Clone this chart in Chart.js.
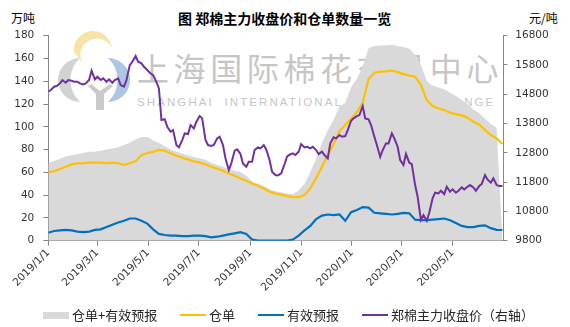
<!DOCTYPE html>
<html>
<head>
<meta charset="utf-8">
<script src="https://cdn.jsdelivr.net/npm/chart.js@4"></script>
<style>
    body { margin: 0; background: #fff; }
    #wrap { position: relative; width: 570px; height: 327px; overflow: hidden; font-family: "Noto Sans CJK SC", sans-serif; }
    #chart { position: absolute; left: 0; top: 0; z-index: 2; }
    .txt { position: absolute; white-space: nowrap; line-height: 1; color: #000; }
    .wm-cn { position: absolute; left: 137px; top: 51px; font-size: 32px; letter-spacing: 4.6px; color: #c6c6c6; line-height: 1; white-space: nowrap; z-index: 1; }
    .wm-en { position: absolute; left: 137px; top: 97px; font-family: "Liberation Sans", sans-serif; font-size: 11.5px; letter-spacing: 2.1px; color: #c6c6c6; line-height: 1; white-space: nowrap; z-index: 1; }
    #logo { position: absolute; left: 0; top: 0; z-index: 1; }
    .legend-item { position: absolute; top: 307px; font-size: 13px; color: #262626; line-height: 15px; white-space: nowrap; z-index: 3; }
    .legend-mark { position: absolute; }
</style>
</head>
<body>
<div id="wrap">
    <svg id="logo" width="570" height="327">
        <path d="M74,52 A19,19 0 1 1 112,48 A15,15 0 1 0 82,62 Z" fill="#f8e2a8"/>
        <path d="M80,58 A22,22 0 0 0 80,102 A30,30 0 0 1 80,58 Z" fill="#d2d2d2"/>
        <path d="M108,58 A22,22 0 0 1 108,102 A30,30 0 0 0 108,58 Z" fill="#adc6e2"/>
        <path d="M88,86 L96,94 L96,110 L104,110 L104,94 L113,86 L110,84 L100,91 L91,84 Z" fill="#cacaca"/>
    </svg>
    <div class="wm-cn">上海国际棉花交易中心</div>
    <div class="wm-en">SHANGHAI&nbsp; INTERNATIONAL COTTON EXCHANGE</div>
    <canvas id="chart" width="570" height="327"></canvas>

    <div class="txt" style="left:178px; top:11px; font-size:14px; font-weight:bold;">图 郑棉主力收盘价和仓单数量一览</div>
    <div class="txt" style="left:11px; top:12px; font-size:12px;">万吨</div>
    <div class="txt" style="left:529px; top:12px; font-size:12px;">元/吨</div>

    <div id="legend"></div>
</div>
<script>
// weekly dates for warehouse receipts series
const dates = [
    '2019/1/1', '2019/1/8', '2019/1/15', '2019/1/22', '2019/1/29', '2019/2/5', '2019/2/12', '2019/2/19', '2019/2/26',
    '2019/3/5', '2019/3/12', '2019/3/19', '2019/3/26', '2019/4/2', '2019/4/9', '2019/4/16', '2019/4/23', '2019/4/30',
    '2019/5/7', '2019/5/14', '2019/5/21', '2019/5/28', '2019/6/4', '2019/6/11', '2019/6/18', '2019/6/25',
    '2019/7/2', '2019/7/9', '2019/7/16', '2019/7/23', '2019/7/30', '2019/8/6', '2019/8/13', '2019/8/20', '2019/8/27',
    '2019/9/3', '2019/9/10', '2019/9/17', '2019/9/24', '2019/10/1', '2019/10/8', '2019/10/15', '2019/10/22', '2019/10/29',
    '2019/11/5', '2019/11/12', '2019/11/19', '2019/11/26', '2019/12/3', '2019/12/10', '2019/12/17', '2019/12/24', '2019/12/31',
    '2020/1/7', '2020/1/14', '2020/1/21', '2020/1/28', '2020/2/4', '2020/2/11', '2020/2/18', '2020/2/25',
    '2020/3/3', '2020/3/10', '2020/3/17', '2020/3/24', '2020/3/31', '2020/4/7', '2020/4/14', '2020/4/21', '2020/4/28',
    '2020/5/5', '2020/5/12', '2020/5/19', '2020/5/26', '2020/6/2', '2020/6/9', '2020/6/16', '2020/6/23', '2020/6/30'
];

// 仓单+有效预报 (万吨)
const totalValues = [
    68, 70, 72, 74, 75, 76, 77, 78, 78, 79, 80, 81, 82, 84, 86, 89, 91, 91, 88, 86, 83,
    80, 78, 76.5, 75, 73.5, 72.5, 71, 68.5, 66.5, 65, 63, 61.5, 60, 57, 52, 50, 48, 45.5, 43.5,
    42.5, 41.5, 41, 44, 50, 60, 72, 86, 97, 106, 118, 121, 135, 142, 153, 169, 171, 171.5, 171.5, 172,
    171, 170, 168.5, 163, 154.5, 140, 136, 134.5, 133, 130, 127, 123.5, 120, 115.5, 112, 107, 102.5, 99, 0
];

// 仓单 (万吨)
const receiptValues = [
    60, 61, 63, 65, 67, 68, 68, 68.5, 68.5, 68.5, 68, 68.5, 68, 66.5, 68, 70, 75, 77, 78, 80, 79,
    76.7, 74.6, 72.9, 71.4, 69.7, 68.5, 67, 65, 63.2, 61.5, 59.1, 57.1, 54.7, 52.7, 50.3, 48.3, 45.9, 43, 41.3,
    40.4, 39.2, 38.3, 38.3, 40, 46, 55, 65, 75.5, 85, 96, 101.5, 107, 113, 121, 142, 147.5, 148.4, 148.7, 149.3,
    148, 146.3, 144.9, 144, 136.7, 123.5, 118.2, 116.1, 114.7, 112.4, 111.2, 110, 108, 104.5, 102.1, 97.2, 92.8, 89.8, 84.9
];

// 有效预报 (万吨)
const forecastValues = [
    7, 8.5, 9, 9.5, 9, 8, 7.5, 8, 9.5, 10, 12, 14, 16, 17.5, 19.5, 19.5, 17.5, 15, 10, 6, 5,
    4.5, 4.5, 4, 4, 4.5, 4.5, 4, 3, 3.5, 4.5, 5.5, 6.5, 7.5, 6, 1, 0, 0, 0, 0,
    0, 0, 1, 4.5, 9, 13, 19, 22, 23, 22.5, 23, 17.5, 25, 27, 29.5, 29, 24.5, 24, 23.5, 23,
    23.5, 24.5, 24, 18.5, 18, 18, 18.5, 19, 19.5, 18, 15.5, 13, 12, 12, 13, 13.5, 11, 9.5, 9.4
];

// 郑棉主力收盘价 (元/吨), twice a week
const priceDates = [
    '2019/1/1', '2019/1/4', '2019/1/8', '2019/1/11', '2019/1/15', '2019/1/18', '2019/1/22', '2019/1/25', '2019/1/29', '2019/2/1',
    '2019/2/5', '2019/2/8', '2019/2/12', '2019/2/15', '2019/2/19', '2019/2/22', '2019/2/26', '2019/3/1', '2019/3/5', '2019/3/8',
    '2019/3/12', '2019/3/15', '2019/3/19', '2019/3/22', '2019/3/26', '2019/3/29', '2019/4/2', '2019/4/5', '2019/4/9', '2019/4/12',
    '2019/4/16', '2019/4/19', '2019/4/23', '2019/4/26', '2019/4/30', '2019/5/3', '2019/5/7', '2019/5/10', '2019/5/14', '2019/5/17',
    '2019/5/21', '2019/5/24', '2019/5/28', '2019/5/31', '2019/6/4', '2019/6/7', '2019/6/11', '2019/6/14', '2019/6/18', '2019/6/21',
    '2019/6/25', '2019/6/28', '2019/7/2', '2019/7/5', '2019/7/9', '2019/7/12', '2019/7/16', '2019/7/19', '2019/7/23', '2019/7/26',
    '2019/7/30', '2019/8/2', '2019/8/6', '2019/8/9', '2019/8/13', '2019/8/16', '2019/8/20', '2019/8/23', '2019/8/27', '2019/8/30',
    '2019/9/3', '2019/9/6', '2019/9/10', '2019/9/13', '2019/9/17', '2019/9/20', '2019/9/24', '2019/9/27', '2019/10/1', '2019/10/4',
    '2019/10/8', '2019/10/11', '2019/10/15', '2019/10/18', '2019/10/22', '2019/10/25', '2019/10/29', '2019/11/1', '2019/11/5', '2019/11/8',
    '2019/11/12', '2019/11/15', '2019/11/19', '2019/11/22', '2019/11/26', '2019/11/29', '2019/12/3', '2019/12/6', '2019/12/10', '2019/12/13',
    '2019/12/17', '2019/12/20', '2019/12/24', '2019/12/27', '2019/12/31', '2020/1/3', '2020/1/7', '2020/1/10', '2020/1/14', '2020/1/17',
    '2020/1/21', '2020/1/24', '2020/1/28', '2020/1/31', '2020/2/4', '2020/2/7', '2020/2/11', '2020/2/14', '2020/2/18', '2020/2/21',
    '2020/2/25', '2020/2/28', '2020/3/3', '2020/3/6', '2020/3/10', '2020/3/13', '2020/3/17', '2020/3/20', '2020/3/24', '2020/3/27',
    '2020/3/31', '2020/4/3', '2020/4/7', '2020/4/10', '2020/4/14', '2020/4/17', '2020/4/21', '2020/4/24', '2020/4/28', '2020/5/1',
    '2020/5/5', '2020/5/8', '2020/5/12', '2020/5/15', '2020/5/19', '2020/5/22', '2020/5/26', '2020/5/29', '2020/6/2', '2020/6/5',
    '2020/6/9', '2020/6/12', '2020/6/16', '2020/6/19', '2020/6/23', '2020/6/26', '2020/6/30'
];
const priceValues = [
    14887, 14944, 15058, 15080, 15171, 15285, 15194, 15285, 15262, 15228,
    15228, 15171, 15137, 15171, 15285, 15604, 15308, 15399, 15285, 15342,
    15228, 15308, 15194, 15285, 15342, 15114, 15058, 15285, 15797, 15911,
    16105, 15911, 15854, 15740, 15627, 15535, 15456, 15285, 15000, 13920,
    13950, 13692, 13521, 13578, 13066, 12986, 13237, 13464, 13442, 13749,
    13635, 13863, 14056, 13977, 13237, 13066, 13032, 13066, 13294, 13350,
    13066, 12611, 12213, 12440, 12873, 12918, 12759, 12440, 12326, 12497,
    12497, 12895, 12986, 12952, 13066, 12918, 12554, 12156, 12042, 12030,
    12099, 12326, 12668, 12736, 12782, 12725, 12839, 13100, 12986, 13009,
    12952, 13009, 12895, 12759, 12839, 12725, 12611, 13123, 13328, 13294,
    13408, 13350, 13373, 13578, 13897, 13977, 14056, 14090, 14398, 13977,
    13943, 13749, 13350, 13066, 12668, 12895, 13123, 13123, 13464, 13294,
    13009, 12554, 12383, 12759, 12463, 12417, 11700, 11302, 10506, 10676,
    10483, 10756, 11245, 11439, 11416, 11507, 11393, 11644, 11473, 11553,
    11439, 11507, 11621, 11553, 11644, 11700, 11621, 11507, 11666, 11735,
    12042, 11894, 11780, 11928, 11700, 11666, 11666
];

const tickDates = ['2019/1/1', '2019/3/1', '2019/5/1', '2019/7/1', '2019/9/1', '2019/11/1', '2020/1/1', '2020/3/1', '2020/5/1'];
const axisEnd = '2020/7/1';

const seriesNames = ['仓单+有效预报', '仓单', '有效预报', '郑棉主力收盘价（右轴）'];
const seriesColors = ['#d9d9d9', '#ffc000', '#0070c0', '#7030a0'];

function dayNum(s) {
    const [y, m, d] = s.split('/').map(Number);
    return (Date.UTC(y, m - 1, d) - Date.UTC(2019, 0, 1)) / 86400000;
}

function toPoints(ds, vs) {
    return ds.map((d, i) => ({ x: dayNum(d), y: vs[i] }));
}

const tickFont = { family: 'DejaVu Sans', size: 10.5 };
const axisGray = '#868686';

new Chart(document.getElementById('chart'), {
    type: 'line',
    data: {
        datasets: [
            {
                label: seriesNames[0],
                data: toPoints(dates, totalValues),
                yAxisID: 'y',
                fill: 'origin',
                backgroundColor: seriesColors[0],
                borderWidth: 0,
                pointRadius: 0,
                order: 4
            },
            {
                label: seriesNames[1],
                data: toPoints(dates, receiptValues),
                yAxisID: 'y',
                borderColor: seriesColors[1],
                borderWidth: 2.2,
                pointRadius: 0,
                order: 3
            },
            {
                label: seriesNames[2],
                data: toPoints(dates, forecastValues),
                yAxisID: 'y',
                borderColor: seriesColors[2],
                borderWidth: 2.2,
                pointRadius: 0,
                order: 2
            },
            {
                label: seriesNames[3],
                data: toPoints(priceDates, priceValues),
                yAxisID: 'y1',
                borderColor: seriesColors[3],
                borderWidth: 2,
                pointRadius: 0,
                order: 1
            }
        ]
    },
    options: {
        responsive: false,
        animation: false,
        devicePixelRatio: 1,
        layout: { padding: { top: 35.7, left: 0, right: 0, bottom: 0 } },
        plugins: {
            legend: { display: false },
            tooltip: { enabled: false }
        },
        scales: {
            x: {
                type: 'linear',
                min: 0,
                max: dayNum(axisEnd),
                afterBuildTicks: function (scale) {
                    scale.ticks = tickDates.map(t => ({ value: dayNum(t) }));
                },
                afterFit: function (scale) {
                    scale.height = 86.3;
                },
                ticks: {
                    autoSkip: false,
                    minRotation: 45,
                    maxRotation: 45,
                    color: '#333',
                    font: tickFont,
                    padding: 1,
                    callback: function (value, index) {
                        return tickDates[index];
                    }
                },
                grid: { drawOnChartArea: false, tickLength: 5, color: axisGray },
                border: { color: axisGray }
            },
            y: {
                position: 'left',
                min: 0,
                max: 180,
                afterFit: function (scale) {
                    scale.width = 48.3;
                },
                ticks: { stepSize: 20, color: '#333', font: tickFont, padding: 9 },
                grid: { drawOnChartArea: false, tickLength: 5, color: axisGray },
                border: { color: axisGray }
            },
            y1: {
                position: 'right',
                min: 9800,
                max: 16800,
                afterFit: function (scale) {
                    scale.width = 66.7;
                },
                ticks: {
                    stepSize: 1000,
                    color: '#333',
                    font: tickFont,
                    padding: 8,
                    callback: function (value) {
                        return String(value);
                    }
                },
                grid: { drawOnChartArea: false, tickLength: 4, color: axisGray },
                border: { color: axisGray }
            }
        }
    }
});

// legend, same order and colours as the datasets
const legendPos = [43, 180, 258, 362];
document.getElementById('legend').innerHTML = seriesNames.map((name, i) => {
    const mark = i === 0
        ? `<span class="legend-mark" style="left:0; top:4.5px; width:26px; height:7px; background:${seriesColors[i]}"></span>`
        : `<span class="legend-mark" style="left:0; top:6.5px; width:26px; height:2.5px; background:${seriesColors[i]}"></span>`;
    return `<div class="legend-item" style="left:${legendPos[i]}px; padding-left:29px">${mark}${name}</div>`;
}).join('');
</script>
</body>
</html>
